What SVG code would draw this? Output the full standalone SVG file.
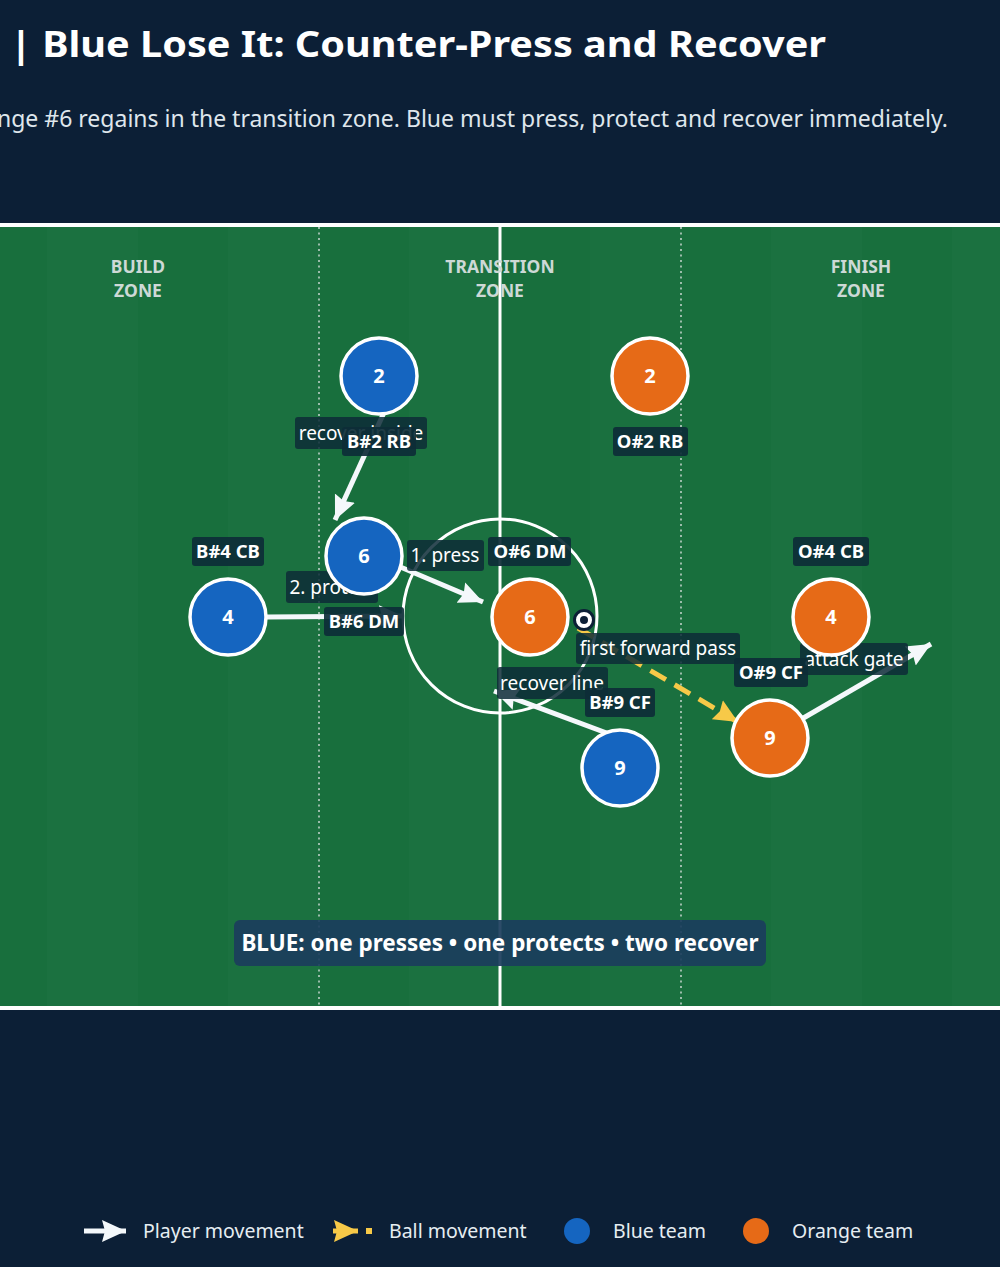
<svg xmlns="http://www.w3.org/2000/svg" width="1000" height="1267" viewBox="0 0 1000 1267">
<defs>
<style>
text{font-family:"Noto Sans","Open Sans","DejaVu Sans",sans-serif}
.title{font-size:36px;font-weight:700;fill:#ffffff}
.sub{font-size:23px;fill:#dfe6ec}
.zone{font-size:17.5px;font-weight:700;fill:#cdd9d6;text-anchor:middle}
.pl{stroke:#ffffff;stroke-width:3.5}
.blue{fill:#1565c0}
.orange{fill:#e66a17}
.num{font-size:20px;font-weight:700;fill:#ffffff;text-anchor:middle}
.lblbox{fill:#0d2c37;opacity:0.92}
.lbl{font-size:18.5px;font-weight:700;fill:#ffffff;text-anchor:middle}
.albox{fill:#0d2c37;opacity:0.85}
.al{font-size:19px;fill:#ffffff;text-anchor:middle}
.mv{stroke:#f4f8fb;stroke-width:5;fill:none;marker-end:url(#ah)}
.ball{stroke:#f7c948;stroke-width:5;fill:none;stroke-dasharray:18 10;marker-end:url(#ahy)}
.leg{font-size:19.5px;fill:#e6edf2}
</style>
<marker id="ah" markerUnits="userSpaceOnUse" markerWidth="26" markerHeight="24" refX="24" refY="12" orient="auto">
<path d="M0,1 L24,12 L0,23 L3,12 Z" fill="#f4f8fb"/>
</marker>
<marker id="ahy" markerUnits="userSpaceOnUse" markerWidth="26" markerHeight="24" refX="24" refY="12" orient="auto">
<path d="M0,1 L24,12 L0,23 L3,12 Z" fill="#f7c948"/>
</marker>
</defs>
<rect x="0" y="0" width="1000" height="1267" fill="#0c1f36"/>
<g id="header">
<text class="title" x="10" y="57" textLength="816" lengthAdjust="spacingAndGlyphs">| Blue Lose It: Counter-Press and Recover</text>
<text class="sub" x="948" y="127" text-anchor="end">nge #6 regains in the transition zone. Blue must press, protect and recover immediately.</text>
</g>
<g id="pitch">
<rect x="0" y="225" width="1000" height="784" fill="#186f3d"/>
<g fill="#ffffff" opacity="0.012">
<rect x="47" y="227" width="91" height="780"/>
<rect x="228" y="227" width="91" height="780"/>
<rect x="409" y="227" width="91" height="780"/>
<rect x="590" y="227" width="91" height="780"/>
<rect x="771" y="227" width="91" height="780"/>
<rect x="952" y="227" width="91" height="780"/>
</g>
<line x1="0" y1="225" x2="1000" y2="225" stroke="#ffffff" stroke-width="4"/>
<line x1="0" y1="1008" x2="1000" y2="1008" stroke="#ffffff" stroke-width="4"/>
<line x1="500" y1="225" x2="500" y2="1008" stroke="#ffffff" stroke-width="3"/>
<circle cx="500" cy="616" r="97" fill="none" stroke="#ffffff" stroke-width="3"/>
<line x1="319" y1="227" x2="319" y2="1006" stroke="#c8d6d0" stroke-width="1.5" stroke-dasharray="2 3.5"/>
<line x1="681" y1="227" x2="681" y2="1006" stroke="#c8d6d0" stroke-width="1.5" stroke-dasharray="2 3.5"/>
<text class="zone" x="138" y="273">BUILD</text>
<text class="zone" x="138" y="297">ZONE</text>
<text class="zone" x="500" y="273">TRANSITION</text>
<text class="zone" x="500" y="297">ZONE</text>
<text class="zone" x="861" y="273">FINISH</text>
<text class="zone" x="861" y="297">ZONE</text>
</g>
<g id="connectors">
<line class="mv" x1="392" y1="395" x2="335" y2="520"/>
<line class="mv" x1="398" y1="566" x2="483" y2="602"/>
<line class="mv" x1="267" y1="617" x2="403" y2="616"/>
<line class="mv" x1="612" y1="735" x2="494" y2="691"/>
<line class="mv" x1="800" y1="720" x2="931" y2="644"/>
<line class="ball" x1="578" y1="628" x2="738" y2="722"/>
</g>
<g id="connector-labels">
<rect class="albox" x="295" y="417" width="132" height="32" rx="3"/>
<text class="al" x="361" y="440">recover inside</text>
<rect class="albox" x="407" y="540" width="77" height="31" rx="3"/>
<text class="al" x="445" y="562">1. press</text>
<rect class="albox" x="286" y="571" width="92" height="32" rx="3"/>
<text class="al" x="332" y="594">2. protect</text>
<rect class="albox" x="497" y="667" width="111" height="32" rx="3"/>
<text class="al" x="552" y="690">recover line</text>
<rect class="albox" x="576" y="633" width="164" height="31" rx="3"/>
<text class="al" x="658" y="655">first forward pass</text>
<rect class="albox" x="800" y="643" width="108" height="32" rx="3"/>
<text class="al" x="854" y="666">attack gate</text>
</g>
<g id="ball">
<circle cx="584" cy="620" r="9.5" fill="#ffffff" stroke="#0c1f36" stroke-width="3"/>
<circle cx="584" cy="620" r="4" fill="#0c1f36"/>
</g>
<g id="node-b2"><circle class="pl blue" cx="379" cy="376" r="38"/><text class="num" x="379" y="383">2</text><rect class="lblbox" x="342" y="427" width="74" height="29" rx="3"/><text class="lbl" x="379" y="448">B#2 RB</text></g>
<g id="node-o2"><circle class="pl orange" cx="650" cy="376" r="38"/><text class="num" x="650" y="383">2</text><rect class="lblbox" x="613" y="427" width="75" height="29" rx="3"/><text class="lbl" x="650" y="448">O#2 RB</text></g>
<g id="node-b6"><circle class="pl blue" cx="364" cy="556" r="38"/><text class="num" x="364" y="563">6</text><rect class="lblbox" x="324" y="607" width="80" height="29" rx="3"/><text class="lbl" x="364" y="628">B#6 DM</text></g>
<g id="node-b4"><circle class="pl blue" cx="228" cy="617" r="38"/><text class="num" x="228" y="624">4</text><rect class="lblbox" x="192" y="537" width="72" height="29" rx="3"/><text class="lbl" x="228" y="558">B#4 CB</text></g>
<g id="node-o6"><circle class="pl orange" cx="530" cy="617" r="38"/><text class="num" x="530" y="624">6</text><rect class="lblbox" x="488" y="537" width="83" height="29" rx="3"/><text class="lbl" x="530" y="558">O#6 DM</text></g>
<g id="node-o4"><circle class="pl orange" cx="831" cy="617" r="38"/><text class="num" x="831" y="624">4</text><rect class="lblbox" x="793" y="537" width="76" height="29" rx="3"/><text class="lbl" x="831" y="558">O#4 CB</text></g>
<g id="node-b9"><circle class="pl blue" cx="620" cy="768" r="38"/><text class="num" x="620" y="775">9</text><rect class="lblbox" x="585" y="688" width="70" height="29" rx="3"/><text class="lbl" x="620" y="709">B#9 CF</text></g>
<g id="node-o9"><circle class="pl orange" cx="770" cy="738" r="38"/><text class="num" x="770" y="745">9</text><rect class="lblbox" x="734" y="658" width="74" height="29" rx="3"/><text class="lbl" x="771" y="679">O#9 CF</text></g>
<g id="note">
<rect x="234" y="920" width="532" height="46" rx="6" fill="#1b3d5c" opacity="0.92"/>
<text x="500" y="951" font-size="22.5" font-weight="700" fill="#ffffff" text-anchor="middle">BLUE: one presses • one protects • two recover</text>
</g>
<g id="legend">
<line x1="84" y1="1231" x2="126" y2="1231" stroke="#f4f8fb" stroke-width="5" marker-end="url(#ah)"/>
<text class="leg" x="143" y="1238">Player movement</text>
<line x1="333" y1="1231" x2="358" y2="1231" stroke="#f7c948" stroke-width="5" marker-end="url(#ahy)"/>
<rect x="366" y="1228" width="6" height="6" fill="#f7c948"/>
<text class="leg" x="389" y="1238">Ball movement</text>
<circle cx="577" cy="1231" r="13" fill="#1565c0"/>
<text class="leg" x="613" y="1238">Blue team</text>
<circle cx="756" cy="1231" r="13" fill="#e66a17"/>
<text class="leg" x="792" y="1238">Orange team</text>
</g>
</svg>
